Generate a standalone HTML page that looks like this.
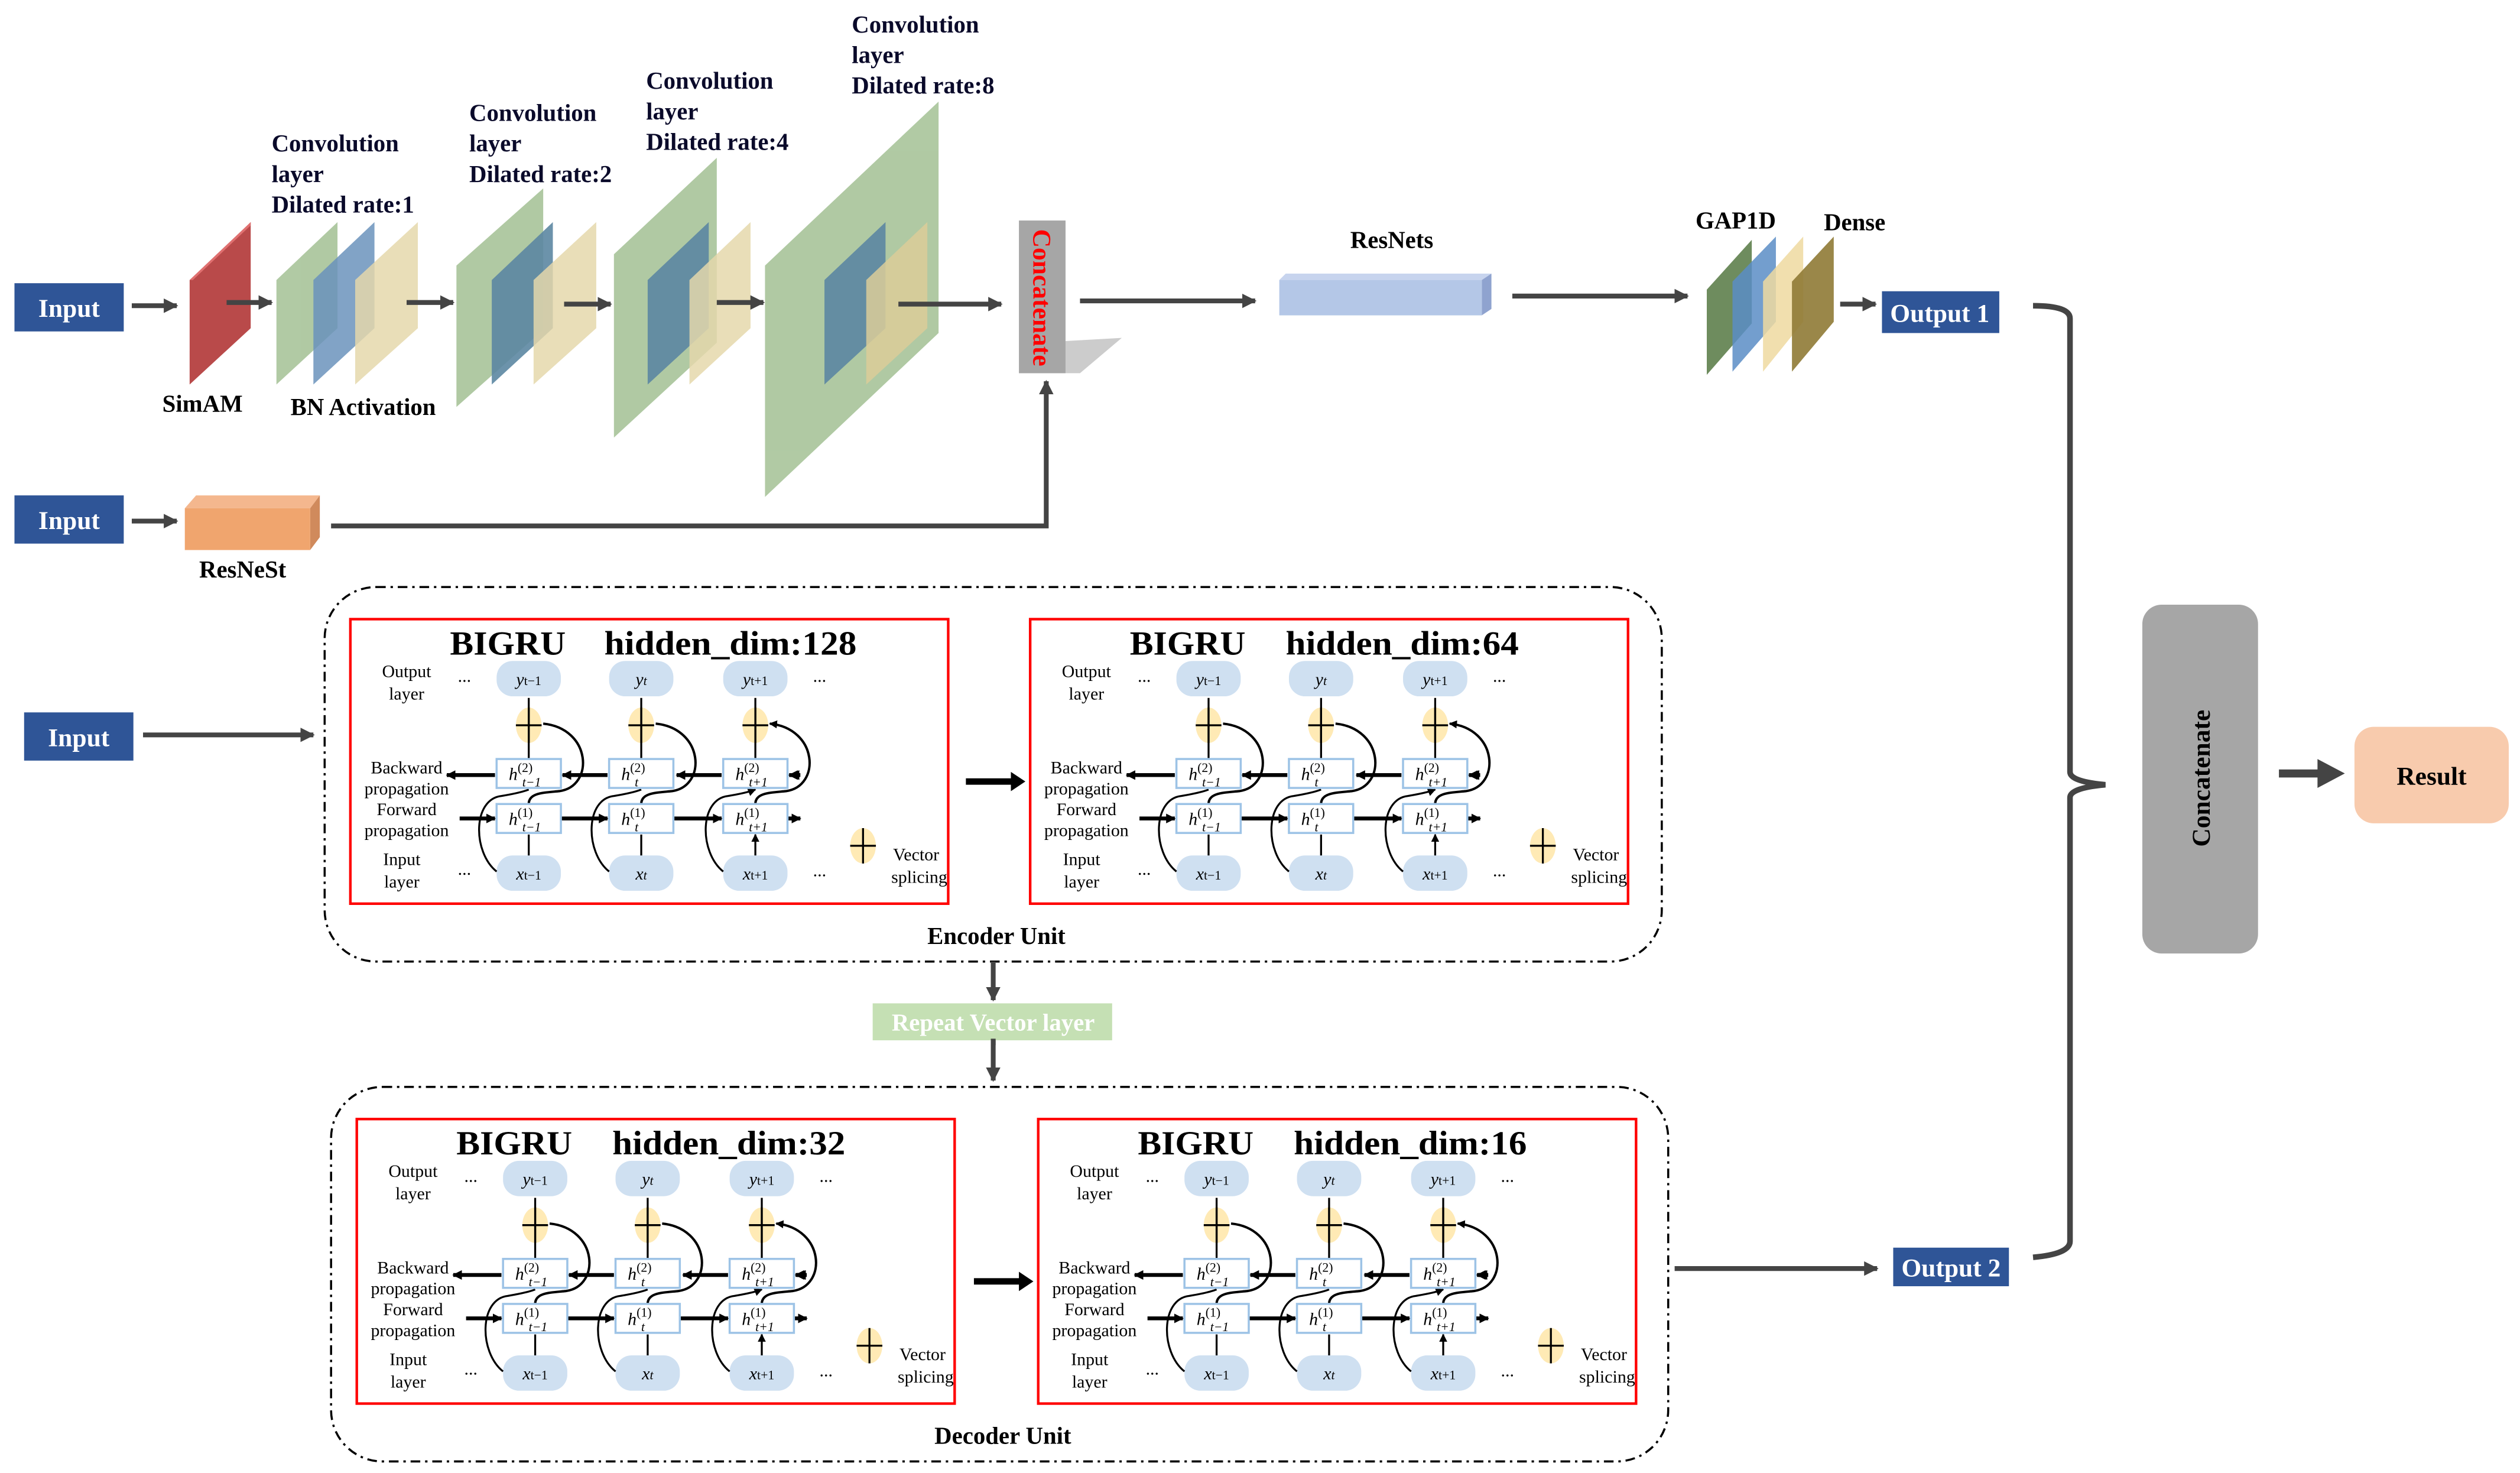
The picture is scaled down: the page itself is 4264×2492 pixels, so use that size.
<!DOCTYPE html>
<html><head><meta charset="utf-8"><style>
html,body{margin:0;padding:0;background:#fff}
svg{display:block}
text{font-family:"Liberation Serif",serif}
</style></head><body>
<svg width="4264" height="2492" viewBox="0 0 1568 916" xmlns="http://www.w3.org/2000/svg">
<defs>
<marker id="a" viewBox="0 0 10 10" refX="9" refY="5" markerWidth="5" markerHeight="5" markerUnits="userSpaceOnUse" orient="auto"><path d="M0,0L10,5L0,10z" fill="#000"/></marker>
<marker id="ab" viewBox="0 0 10 10" refX="9" refY="5" markerWidth="6" markerHeight="6" markerUnits="userSpaceOnUse" orient="auto"><path d="M0,0L10,5L0,10z" fill="#000"/></marker>
<marker id="g" viewBox="0 0 10 10" refX="9" refY="5" markerWidth="9" markerHeight="9" markerUnits="userSpaceOnUse" orient="auto"><path d="M0,0L10,5L0,10z" fill="#444"/></marker>
<g id="ms">
<rect x="0" y="0" width="372" height="177" fill="#fff" stroke="#f00" stroke-width="1.6"/>
<g fill="#cfe0f1">
<rect x="91" y="26" width="40" height="22" rx="10"/><rect x="161" y="26" width="40" height="22" rx="10"/><rect x="232" y="26" width="40" height="22" rx="10"/>
<rect x="91" y="147" width="40" height="22" rx="10"/><rect x="161" y="147" width="40" height="22" rx="10"/><rect x="232" y="147" width="40" height="22" rx="10"/>
</g>
<g fill="#ffeab5"><ellipse cx="111" cy="66" rx="8" ry="11"/><ellipse cx="181" cy="66" rx="8" ry="11"/><ellipse cx="252" cy="66" rx="8" ry="11"/><ellipse cx="319" cy="141" rx="8" ry="11"/></g>
<g stroke="#000" stroke-width="1.2" fill="none">
<path d="M103,66h16M111,55v22M173,66h16M181,55v22M244,66h16M252,55v22M311,141h16M319,130v22"/>
<path d="M111,87V49M181,87V49M252,87V49M111,147V134M181,147V134M252,147V134" marker-end="url(#a)"/>
<path d="M91,157C76,145 76,112 94,110Q106,108 111,106M161,157C146,145 146,112 164,110Q176,108 181,106M232,157C217,145 217,112 235,110Q247,108 252,106" marker-end="url(#a)"/>
<path d="M111,115C111,108 120,108 130,107C152,104 150,68 120,65M181,115C181,108 190,108 200,107C222,104 220,68 190,65M252,115C252,108 261,108 271,107C293,104 291,68 261,65" stroke-width="1.5" marker-end="url(#a)"/>
</g>
<g stroke="#000" stroke-width="2.4" fill="none" marker-end="url(#ab)">
<path d="M278,97H273"/><path d="M278,97H274"/>
<path d="M278,97H274"/>
</g>
<g stroke="#000" stroke-width="2.4" fill="none" marker-end="url(#ab)">
<path d="M279,97H274"/>
<path d="M231,97H203"/><path d="M160,97H132"/><path d="M90,97H60"/>
<path d="M68,124H90"/><path d="M131,124H160"/><path d="M201,124H231"/><path d="M272,124H280"/>
</g>
<path d="M280,97H274" stroke="#000" stroke-width="2.4"/>
<g fill="#fff" stroke="#9dc3e6" stroke-width="1.3">
<rect x="91" y="87" width="40" height="18"/><rect x="161" y="87" width="40" height="18"/><rect x="232" y="87" width="40" height="18"/>
<rect x="91" y="115" width="40" height="18"/><rect x="161" y="115" width="40" height="18"/><rect x="232" y="115" width="40" height="18"/>
</g>
</g>
</defs>

<!-- top branch -->
<g fill="#2f5597"><rect x="9" y="176" width="68" height="30"/><rect x="9" y="308" width="68" height="30"/><rect x="15" y="443" width="68" height="30"/><rect x="1171" y="181" width="73" height="26"/><rect x="1178" y="776" width="72" height="24"/></g>
<g fill="#fff" font-weight="bold" font-size="16" text-anchor="middle">
<text x="43" y="197">Input</text><text x="43" y="329">Input</text><text x="49" y="464">Input</text>
<text x="1207" y="200">Output 1</text><text x="1214" y="794">Output 2</text>
</g>

<!-- slabs -->
<polygon points="118,174 156,138 156,204 118,239" fill="#b94a4a"/><polygon points="118,174 120,174 156,140 156,138" fill="#e07070"/>
<g opacity="0.9">
<polygon points="172,174 210,138 210,204 172,239" fill="#a8c49a"/>
<polygon points="195,174 233,138 233,204 195,239" fill="#5b87b5" opacity="0.85"/>
<polygon points="221,174 260,138 260,204 221,239" fill="#e2d3a2" opacity="0.85"/>
<polygon points="284,165 338,117 338,205 284,253" fill="#a8c49a"/>
<polygon points="306,174 344,138 344,204 306,239" fill="#4a7a98" opacity="0.9"/>
<polygon points="332,174 371,138 371,204 332,239" fill="#e2d3a2" opacity="0.85"/>
<polygon points="382,158 446,98 446,213 382,272" fill="#a8c49a"/>
<polygon points="403,174 441,138 441,204 403,239" fill="#4a7a98" opacity="0.9"/>
<polygon points="429,174 467,138 467,204 429,239" fill="#e2d3a2" opacity="0.85"/>
<polygon points="476,165 584,63 584,207 476,309" fill="#a8c49a"/>
<polygon points="513,174 551,138 551,204 513,239" fill="#4a7a98" opacity="0.9"/>
<polygon points="539,174 577,138 577,204 539,239" fill="#d8c88e" opacity="0.85"/>
</g>
<g stroke="#444" stroke-width="3" fill="none" marker-end="url(#g)">
<path d="M82,190H110"/><path d="M141,188H169"/><path d="M253,188H282"/><path d="M351,189H380"/><path d="M446,188H475"/><path d="M559,189H623"/>
<path d="M82,324H110"/><path d="M672,187H781"/><path d="M941,184H1050"/><path d="M1145,189H1167"/>
<path d="M206,327H651V237"/>
</g>
<g font-weight="bold" font-size="15" fill="#0a0a2a">
<text x="169" y="94">Convolution</text><text x="169" y="113">layer</text><text x="169" y="132">Dilated rate:1</text>
<text x="292" y="75">Convolution</text><text x="292" y="94">layer</text><text x="292" y="113">Dilated rate:2</text>
<text x="402" y="55">Convolution</text><text x="402" y="74">layer</text><text x="402" y="93">Dilated rate:4</text>
<text x="530" y="20">Convolution</text><text x="530" y="39">layer</text><text x="530" y="58">Dilated rate:8</text>
</g>
<g font-weight="bold" font-size="15" text-anchor="middle">
<text x="126" y="256">SimAM</text><text x="226" y="258">BN Activation</text><text x="151" y="359">ResNeSt</text>
<text x="866" y="154">ResNets</text><text x="1080" y="142">GAP1D</text><text x="1154" y="143">Dense</text>
</g>
<!-- concat1 -->
<polygon points="663,212 698,210 672,232 663,232" fill="#ccc"/>
<rect x="634" y="137" width="29" height="95" fill="#a6a6a6"/>
<text transform="translate(643,185) rotate(90)" text-anchor="middle" font-size="16" font-weight="bold" fill="#f00">Concatenate</text>
<!-- ResNeSt -->
<polygon points="115,316 122,308 199,308 193,316" fill="#f4b78e"/><polygon points="193,316 199,308 199,334 193,342" fill="#d08a5c"/><rect x="115" y="316" width="78" height="26" fill="#f0a56e"/>
<!-- ResNets -->
<polygon points="796,174 800,170 928,170 922,174" fill="#c7d4ee"/><polygon points="922,174 928,170 928,192 922,196" fill="#8fa3cf"/><rect x="796" y="174" width="126" height="22" fill="#b4c7e7"/>
<!-- GAP/Dense -->
<polygon points="1062,180 1090,149 1090,201 1062,233" fill="#6e8c5e"/>
<polygon points="1078,175 1105,147 1105,200 1078,231" fill="#5b8dc5" opacity="0.85"/>
<polygon points="1097,175 1122,147 1122,200 1097,231" fill="#efd9a0" opacity="0.85"/>
<polygon points="1115,175 1141,147 1141,200 1115,231" fill="#8f7a35" opacity="0.9"/>

<!-- containers -->
<g fill="none" stroke="#000" stroke-width="1.3" stroke-dasharray="6,3,1.5,3">
<rect x="202" y="365" width="832" height="233" rx="32"/>
<rect x="206" y="676" width="832" height="233" rx="32"/>
</g>
<text x="620" y="587" text-anchor="middle" font-size="15" font-weight="bold">Encoder Unit</text>
<text x="624" y="898" text-anchor="middle" font-size="15" font-weight="bold">Decoder Unit</text>
<g stroke="#444" stroke-width="3" fill="none" marker-end="url(#g)">
<path d="M618,598V622"/><path d="M618,647V672"/><path d="M89,457H195"/><path d="M1042,789H1168"/>
</g>
<rect x="543" y="624" width="149" height="23" fill="#c5e0b4"/>
<text x="618" y="641" text-anchor="middle" font-size="15" font-weight="bold" fill="#fff">Repeat Vector layer</text>
<path d="M618,646V650" stroke="#444" stroke-width="3"/>
<g stroke="#000" stroke-width="4"><path d="M601,486H630M606,797H635"/></g>
<path d="M629,480L638,486L629,492z M634,791L643,797L634,803z"/>

<use href="#ms" x="218" y="385"/><use href="#ms" x="641" y="385"/><use href="#ms" x="222" y="696"/><use href="#ms" x="646" y="696"/>

<!-- module texts -->
<g transform="translate(218,385)">
<text x="62" y="22" font-size="21" font-weight="bold" textLength="72" lengthAdjust="spacingAndGlyphs">BIGRU</text><text x="158" y="22" font-size="21" font-weight="bold" textLength="157" lengthAdjust="spacingAndGlyphs">hidden_dim:128</text>
<g font-size="11" text-anchor="middle"><text x="35" y="36">Output</text><text x="35" y="50">layer</text><text x="35" y="96">Backward</text><text x="35" y="109">propagation</text><text x="35" y="122">Forward</text><text x="35" y="135">propagation</text><text x="32" y="153">Input</text><text x="32" y="167">layer</text><text x="71" y="39">...</text><text x="71" y="159">...</text><text x="292" y="39">...</text><text x="292" y="160">...</text><text x="352" y="150">Vector</text><text x="354" y="164">splicing</text></g>
<g font-size="11" font-style="italic" text-anchor="middle"><text x="111" y="41">y<tspan font-size="8" font-style="normal">t−1</tspan></text><text x="181" y="41">y<tspan font-size="8">t</tspan></text><text x="252" y="41">y<tspan font-size="8" font-style="normal">t+1</tspan></text><text x="111" y="162">x<tspan font-size="8" font-style="normal">t−1</tspan></text><text x="181" y="162">x<tspan font-size="8">t</tspan></text><text x="252" y="162">x<tspan font-size="8" font-style="normal">t+1</tspan></text>
<text x="106" y="100">h<tspan font-size="8" font-style="normal" dy="-5">(2)</tspan></text><text x="176" y="100">h<tspan font-size="8" font-style="normal" dy="-5">(2)</tspan></text><text x="247" y="100">h<tspan font-size="8" font-style="normal" dy="-5">(2)</tspan></text>
<text x="106" y="128">h<tspan font-size="8" font-style="normal" dy="-5">(1)</tspan></text><text x="176" y="128">h<tspan font-size="8" font-style="normal" dy="-5">(1)</tspan></text><text x="247" y="128">h<tspan font-size="8" font-style="normal" dy="-5">(1)</tspan></text></g>
<g font-size="8" font-style="italic"><text x="107" y="104">t−1</text><text x="177" y="104">t</text><text x="248" y="104">t+1</text><text x="107" y="132">t−1</text><text x="177" y="132">t</text><text x="248" y="132">t+1</text></g>
</g>
<g transform="translate(641,385)">
<text x="62" y="22" font-size="21" font-weight="bold" textLength="72" lengthAdjust="spacingAndGlyphs">BIGRU</text><text x="159" y="22" font-size="21" font-weight="bold" textLength="145" lengthAdjust="spacingAndGlyphs">hidden_dim:64</text>
<g font-size="11" text-anchor="middle"><text x="35" y="36">Output</text><text x="35" y="50">layer</text><text x="35" y="96">Backward</text><text x="35" y="109">propagation</text><text x="35" y="122">Forward</text><text x="35" y="135">propagation</text><text x="32" y="153">Input</text><text x="32" y="167">layer</text><text x="71" y="39">...</text><text x="71" y="159">...</text><text x="292" y="39">...</text><text x="292" y="160">...</text><text x="352" y="150">Vector</text><text x="354" y="164">splicing</text></g>
<g font-size="11" font-style="italic" text-anchor="middle"><text x="111" y="41">y<tspan font-size="8" font-style="normal">t−1</tspan></text><text x="181" y="41">y<tspan font-size="8">t</tspan></text><text x="252" y="41">y<tspan font-size="8" font-style="normal">t+1</tspan></text><text x="111" y="162">x<tspan font-size="8" font-style="normal">t−1</tspan></text><text x="181" y="162">x<tspan font-size="8">t</tspan></text><text x="252" y="162">x<tspan font-size="8" font-style="normal">t+1</tspan></text>
<text x="106" y="100">h<tspan font-size="8" font-style="normal" dy="-5">(2)</tspan></text><text x="176" y="100">h<tspan font-size="8" font-style="normal" dy="-5">(2)</tspan></text><text x="247" y="100">h<tspan font-size="8" font-style="normal" dy="-5">(2)</tspan></text>
<text x="106" y="128">h<tspan font-size="8" font-style="normal" dy="-5">(1)</tspan></text><text x="176" y="128">h<tspan font-size="8" font-style="normal" dy="-5">(1)</tspan></text><text x="247" y="128">h<tspan font-size="8" font-style="normal" dy="-5">(1)</tspan></text></g>
<g font-size="8" font-style="italic"><text x="107" y="104">t−1</text><text x="177" y="104">t</text><text x="248" y="104">t+1</text><text x="107" y="132">t−1</text><text x="177" y="132">t</text><text x="248" y="132">t+1</text></g>
</g>
<g transform="translate(222,696)">
<text x="62" y="22" font-size="21" font-weight="bold" textLength="72" lengthAdjust="spacingAndGlyphs">BIGRU</text><text x="159" y="22" font-size="21" font-weight="bold" textLength="145" lengthAdjust="spacingAndGlyphs">hidden_dim:32</text>
<g font-size="11" text-anchor="middle"><text x="35" y="36">Output</text><text x="35" y="50">layer</text><text x="35" y="96">Backward</text><text x="35" y="109">propagation</text><text x="35" y="122">Forward</text><text x="35" y="135">propagation</text><text x="32" y="153">Input</text><text x="32" y="167">layer</text><text x="71" y="39">...</text><text x="71" y="159">...</text><text x="292" y="39">...</text><text x="292" y="160">...</text><text x="352" y="150">Vector</text><text x="354" y="164">splicing</text></g>
<g font-size="11" font-style="italic" text-anchor="middle"><text x="111" y="41">y<tspan font-size="8" font-style="normal">t−1</tspan></text><text x="181" y="41">y<tspan font-size="8">t</tspan></text><text x="252" y="41">y<tspan font-size="8" font-style="normal">t+1</tspan></text><text x="111" y="162">x<tspan font-size="8" font-style="normal">t−1</tspan></text><text x="181" y="162">x<tspan font-size="8">t</tspan></text><text x="252" y="162">x<tspan font-size="8" font-style="normal">t+1</tspan></text>
<text x="106" y="100">h<tspan font-size="8" font-style="normal" dy="-5">(2)</tspan></text><text x="176" y="100">h<tspan font-size="8" font-style="normal" dy="-5">(2)</tspan></text><text x="247" y="100">h<tspan font-size="8" font-style="normal" dy="-5">(2)</tspan></text>
<text x="106" y="128">h<tspan font-size="8" font-style="normal" dy="-5">(1)</tspan></text><text x="176" y="128">h<tspan font-size="8" font-style="normal" dy="-5">(1)</tspan></text><text x="247" y="128">h<tspan font-size="8" font-style="normal" dy="-5">(1)</tspan></text></g>
<g font-size="8" font-style="italic"><text x="107" y="104">t−1</text><text x="177" y="104">t</text><text x="248" y="104">t+1</text><text x="107" y="132">t−1</text><text x="177" y="132">t</text><text x="248" y="132">t+1</text></g>
</g>
<g transform="translate(646,696)">
<text x="62" y="22" font-size="21" font-weight="bold" textLength="72" lengthAdjust="spacingAndGlyphs">BIGRU</text><text x="159" y="22" font-size="21" font-weight="bold" textLength="145" lengthAdjust="spacingAndGlyphs">hidden_dim:16</text>
<g font-size="11" text-anchor="middle"><text x="35" y="36">Output</text><text x="35" y="50">layer</text><text x="35" y="96">Backward</text><text x="35" y="109">propagation</text><text x="35" y="122">Forward</text><text x="35" y="135">propagation</text><text x="32" y="153">Input</text><text x="32" y="167">layer</text><text x="71" y="39">...</text><text x="71" y="159">...</text><text x="292" y="39">...</text><text x="292" y="160">...</text><text x="352" y="150">Vector</text><text x="354" y="164">splicing</text></g>
<g font-size="11" font-style="italic" text-anchor="middle"><text x="111" y="41">y<tspan font-size="8" font-style="normal">t−1</tspan></text><text x="181" y="41">y<tspan font-size="8">t</tspan></text><text x="252" y="41">y<tspan font-size="8" font-style="normal">t+1</tspan></text><text x="111" y="162">x<tspan font-size="8" font-style="normal">t−1</tspan></text><text x="181" y="162">x<tspan font-size="8">t</tspan></text><text x="252" y="162">x<tspan font-size="8" font-style="normal">t+1</tspan></text>
<text x="106" y="100">h<tspan font-size="8" font-style="normal" dy="-5">(2)</tspan></text><text x="176" y="100">h<tspan font-size="8" font-style="normal" dy="-5">(2)</tspan></text><text x="247" y="100">h<tspan font-size="8" font-style="normal" dy="-5">(2)</tspan></text>
<text x="106" y="128">h<tspan font-size="8" font-style="normal" dy="-5">(1)</tspan></text><text x="176" y="128">h<tspan font-size="8" font-style="normal" dy="-5">(1)</tspan></text><text x="247" y="128">h<tspan font-size="8" font-style="normal" dy="-5">(1)</tspan></text></g>
<g font-size="8" font-style="italic"><text x="107" y="104">t−1</text><text x="177" y="104">t</text><text x="248" y="104">t+1</text><text x="107" y="132">t−1</text><text x="177" y="132">t</text><text x="248" y="132">t+1</text></g>
</g>

<!-- brace & result -->
<path d="M1265,190Q1288,190 1288,198V480Q1288,486 1310,488Q1288,490 1288,496V772Q1288,780 1265,782" fill="none" stroke="#444" stroke-width="3.5"/>
<rect x="1333" y="376" width="72" height="217" rx="12" fill="#a6a6a6"/>
<text transform="translate(1375,484) rotate(-90)" text-anchor="middle" font-size="16" font-weight="bold">Concatenate</text>
<path d="M1418,481H1445" stroke="#444" stroke-width="5"/><path d="M1442,472L1459,481L1442,490z" fill="#444"/>
<rect x="1465" y="452" width="96" height="60" rx="12" fill="#f8cbad"/>
<text x="1513" y="488" text-anchor="middle" font-size="16" font-weight="bold">Result</text>
</svg>
</body></html>
